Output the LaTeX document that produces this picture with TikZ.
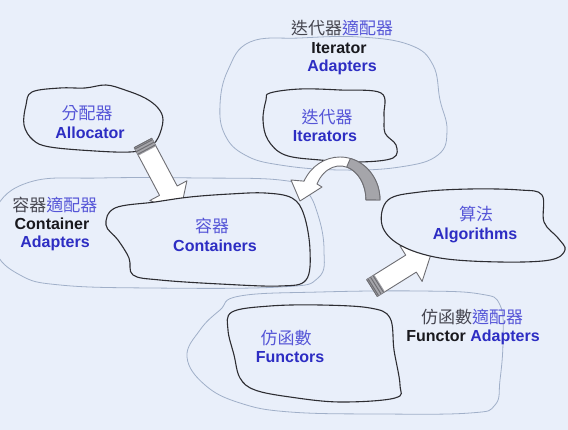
\documentclass[tikz,border=0pt]{standalone}
\usepackage{fontspec}
\setmainfont{Liberation Sans}
\newfontfamily\cjk{Noto Sans CJK TC}
\definecolor{bg}{RGB}{233,239,250}
\definecolor{dk}{RGB}{45,45,50}
\definecolor{lt}{RGB}{160,175,200}
\definecolor{bl}{RGB}{45,45,195}
\definecolor{cb}{RGB}{85,85,215}
\definecolor{gt}{RGB}{70,70,80}
\definecolor{bk}{RGB}{25,25,30}
\definecolor{ag}{RGB}{110,110,115}
\definecolor{sh}{RGB}{165,165,170}
\newcommand\blockarrow[3]{%
\begin{scope}[shift={#1}, rotate=#2]
\draw[arr] (0,-10) -- ({#3-25},-10) -- ({#3-25},-21) -- (#3,0) -- ({#3-25},21) -- ({#3-25},10) -- (0,10) -- cycle;
\fill[sh] (0,-10) rectangle (9,10);
\foreach \s in {1.5,4.5,7.5} \draw[ag,line width=1pt] (\s,-10) -- (\s,10);
\draw[ag,line width=0.9pt] (0,-10) -- (0,10);
\end{scope}}
\begin{document}
\begin{tikzpicture}[x=1pt,y=-1pt,
 dark/.style={draw=dk,line width=1.1pt,fill=bg},
 light/.style={draw=lt,line width=0.8pt},
 lat/.style={font=\bfseries\fontsize{16}{16}\selectfont,inner sep=0pt},
 cj/.style={font=\cjk\fontsize{17}{17}\selectfont,inner sep=0pt},
 arr/.style={draw=ag,line width=0.9pt,fill=white,line join=round}]
\fill[bg] (0,0) rectangle (568,430);
\useasboundingbox (0,0) rectangle (568,430);
% light outer clouds
\draw[light] plot[smooth cycle,tension=0.7] coordinates {(250,42) (300,38) (360,37) (410,45) (433,65) (440,100) (447,130) (438,155) (400,167) (340,170) (280,165) (245,155) (225,135) (220,105) (228,70)};
\draw[light] plot[smooth cycle,tension=0.7] coordinates {(30,182) (100,178) (200,178) (280,180) (305,190) (318,215) (324,250) (318,278) (280,287) (150,288) (60,285) (20,275) (-5,250) (-5,210)};
\draw[light] plot[smooth cycle,tension=0.7] coordinates {(240,296) (320,292) (420,291) (480,294) (500,305) (503,340) (500,380) (495,405) (470,413) (380,414) (290,412) (240,403) (205,385) (187,357) (200,330) (220,310)};
% allocator
\draw[dark] plot[smooth cycle,tension=0.6] coordinates {(32,92) (60,88) (85,88) (106,85) (125,90) (145,98) (158,108) (163,120) (158,138) (148,148) (130,152) (95,151) (50,147) (33,140) (24,125) (26,105)};
\blockarrow{(143,143)}{-62}{79}
% containers
\draw[dark] plot[smooth cycle,tension=0.6] coordinates {(115,208) (155,202) (190,197) (230,194) (265,193) (292,198) (304,215) (310,250) (306,280) (280,286) (220,284) (160,280) (133,275) (129,258) (118,240) (106,225)};
% iterators
\draw[dark] plot[smooth cycle,tension=0.6] coordinates {(270,93) (300,89) (340,90) (381,93) (384,115) (385,133) (396,145) (393,158) (360,162) (320,160) (285,155) (268,140) (263,120) (266,100)};
% curved arrow
\draw[arr] (380,200) arc[start angle=0,end angle=154,x radius=40pt,y radius=43pt] -- (291,180) -- (300,201) -- (322,187) -- (317,184) arc[start angle=152,end angle=0,x radius=26pt,y radius=34pt] -- cycle;
\draw[arr,fill=sh] (380,200) arc[start angle=0,end angle=75,x radius=40pt,y radius=43pt] -- (346.7,167) arc[start angle=75,end angle=0,x radius=26pt,y radius=34pt] -- cycle;
% functors
\draw[dark] plot[smooth cycle,tension=0.6] coordinates {(232,312) (270,306) (320,305) (370,308) (390,318) (394,350) (400,385) (395,398) (340,402) (290,397) (255,390) (240,378) (234,355) (228,330)};
\blockarrow{(372,288)}{32}{71}
% algorithms
\draw[dark] plot[smooth cycle,tension=0.6] coordinates {(388,200) (420,192) (470,189) (520,190) (542,195) (544,222) (558,238) (565,250) (550,260) (500,262) (440,258) (400,245) (382,225)};
% texts
\node[cj] (iat) at (342,28) {\color{gt}迭代器\color{cb}適配器};
\node[lat,bk] (ia1) at (339,48) {Iterator};
\node[lat,bl] (ia2) at (342,67) {Adapters};
\node[cj,cb] (itc) at (327,117) {迭代器};
\node[lat,bl] (ite) at (325,136) {Iterators};
\node[cj,cb] (alc) at (87,113) {分配器};
\node[lat,bl] (ale) at (90,133) {Allocator};
\node[cj] (cat) at (55,205) {\color{gt}容器\color{cb}適配器};
\node[lat,bk] (ca1) at (52,224) {Container};
\node[lat,bl] (ca2) at (55,243) {Adapters};
\node[cj,cb] (coc) at (212,226) {容器};
\node[lat,bl] (coe) at (215,246) {Containers};
\node[cj,cb] (agc) at (476,214) {算法};
\node[lat,bl] (age) at (475,235) {Algorithms};
\node[cj] (fat) at (472,317) {\color{gt}仿函數\color{cb}適配器};
\node[lat] (fae) at (473,337) {\color{bk}Functor \color{bl}Adapters};
\node[cj,cb] (fuc) at (286,338) {仿函數};
\node[lat,bl] (fue) at (290,357) {Functors};
\end{tikzpicture}
\end{document}
